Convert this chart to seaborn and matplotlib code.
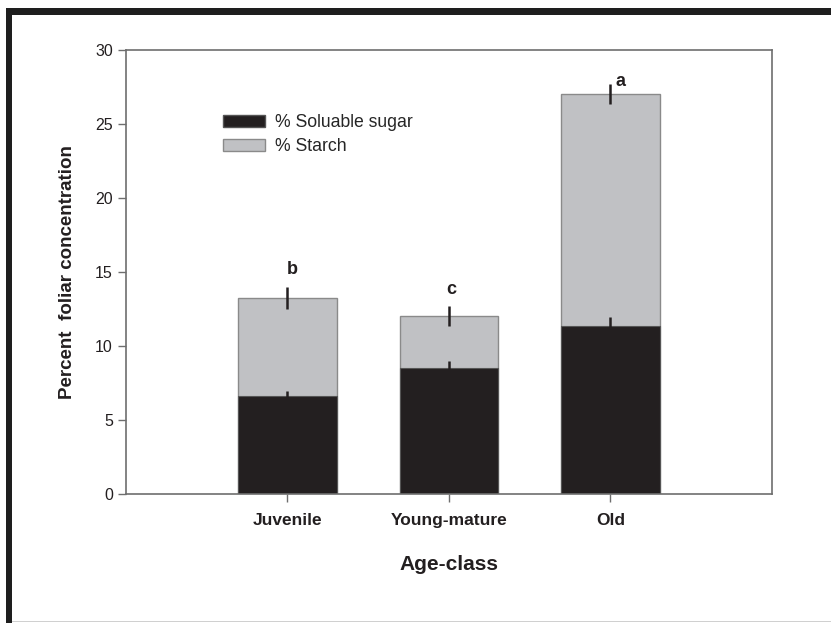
import seaborn as sns
import pandas as pd
import matplotlib.pyplot as plt
from matplotlib.patches import Patch, Rectangle

age_classes = ['Juvenile', 'Young-mature', 'Old']
sugar = [6.64, 8.49, 11.35]
sugar_err = [0.3, 0.5, 0.6]
total = [13.26, 12.03, 27.03]
total_err = [0.75, 0.65, 0.7]
letters = ['b', 'c', 'a']

df = pd.DataFrame({'age': age_classes, 'sugar': sugar, 'total': total})

sns.set_style('white')
plt.rcParams['font.family'] = ['Liberation Sans', 'DejaVu Sans']

dark = '#231f20'
light = '#c0c1c4'
spine_col = '#6e6e6e'

fig = plt.figure(figsize=(8.31, 6.23), dpi=100)
ax = fig.add_axes([0.1516, 0.207, 0.7774, 0.7127])

# starch stacked on sugar: draw totals first, then sugar over them
sns.barplot(data=df, x='age', y='total', color=light, width=0.61,
            edgecolor='#8a8a8a', linewidth=1.0, saturation=1, ax=ax)
sns.barplot(data=df, x='age', y='sugar', color=dark, width=0.61,
            edgecolor='#555555', linewidth=0.8, saturation=1, ax=ax)

xs = range(len(age_classes))
ax.errorbar(xs, total, yerr=total_err, fmt='none', ecolor=dark, elinewidth=1.8, capsize=0)
ax.errorbar(xs, sugar, yerr=sugar_err, fmt='none', ecolor=dark, elinewidth=1.8, capsize=0)

# significance letters
offs = [(0.03, 1.13), (0.015, 1.17), (0.065, 0.15)]
for i, (lab, (dx, dy)) in enumerate(zip(letters, offs)):
    ax.text(i + dx, total[i] + total_err[i] + dy, lab, ha='center', va='center',
            fontsize=13, fontweight='bold', color=dark)

ax.set_xlim(-1, 3)
ax.set_ylim(0, 30)
ax.set_yticks([0, 5, 10, 15, 20, 25, 30])
ax.set_xlabel('Age-class', fontsize=15, fontweight='bold', labelpad=19, color=dark)
ax.set_ylabel('Percent  foliar concentration', fontsize=13.5, fontweight='bold',
              labelpad=14, color=dark)
ax.tick_params(axis='both', direction='out', length=6, width=1.0, color=spine_col,
               left=True, bottom=True, labelcolor=dark)
ax.tick_params(axis='y', labelsize=11.5)
ax.tick_params(axis='x', labelsize=12.5, pad=8)
for t in ax.get_xticklabels():
    t.set_fontweight('bold')
for s in ax.spines.values():
    s.set_visible(True)
    s.set_color(spine_col)
    s.set_linewidth(1.2)

handles = [Patch(facecolor=dark, edgecolor='#555555', label='% Soluable sugar'),
           Patch(facecolor=light, edgecolor='#8a8a8a', label='% Starch')]
ax.legend(handles=handles, loc='upper left', bbox_to_anchor=(0.14, 0.872),
          frameon=False, fontsize=12.7, handlelength=2.33, handleheight=0.68,
          handletextpad=0.6, labelspacing=0.4, borderaxespad=0)

# scanned page frame
fig.patches.append(Rectangle((6 / 831, 0), 6 / 831, 1 - 8 / 623, transform=fig.transFigure,
                             facecolor='#1e1e1e', edgecolor='none'))
fig.patches.append(Rectangle((6 / 831, 1 - 15 / 623), 1, 7 / 623, transform=fig.transFigure,
                             facecolor='#1e1e1e', edgecolor='none'))
fig.patches.append(Rectangle((12 / 831, 1 / 623), 1, 1.5 / 623, transform=fig.transFigure,
                             facecolor='#d0d0d0', edgecolor='none'))

fig.savefig('out.png', dpi=100)
